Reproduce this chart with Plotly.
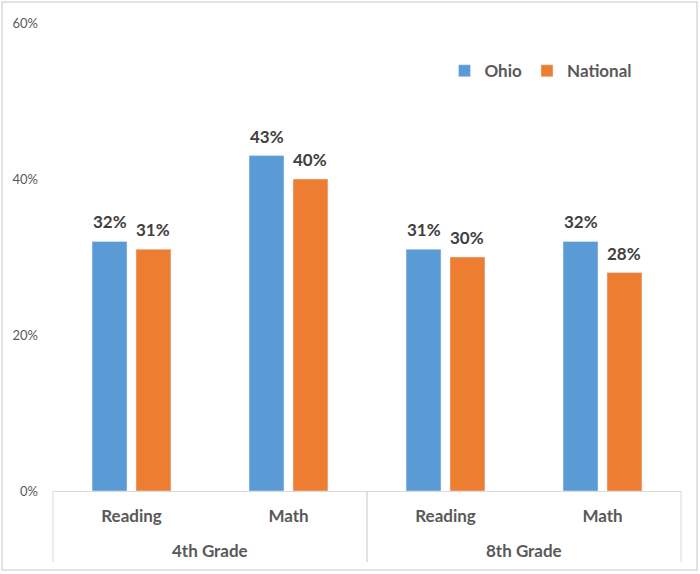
import plotly.graph_objects as go

grades = ["4th Grade", "4th Grade", "8th Grade", "8th Grade"]
subjects = ["Reading", "Math", "Reading", "Math"]
ohio = [0.32, 0.43, 0.31, 0.32]
national = [0.31, 0.40, 0.30, 0.28]
y_ticks = [0, 0.2, 0.4, 0.6]
y_tick_labels = ["0%", "20%", "40%", "60%"]

FONT = "Lato"
GRID = "#d9d9d9"
LABEL_FONT = dict(family=FONT, size=17, color="#404040", weight="bold")
CAT_FONT = dict(family=FONT, size=17, color="#595959", weight="bold")

x_keys = [f"{g} | {s}" for g, s in zip(grades, subjects)]
n = len(x_keys)

L, R, T, B = 53, 19, 23, 83
W, H = 700, 574
pw, ph = W - L - R, H - T - B
BARGAP = 0.44
series = [("Ohio", ohio, "#5B9BD5"), ("National", national, "#ED7D31")]
slot = pw / n * (1 - BARGAP) / len(series)

fig = go.Figure()
annotations = []
for k, (name, vals, col) in enumerate(series):
    fig.add_trace(go.Bar(name=name, x=x_keys, y=vals, marker_color=col))
    shift = (k - (len(series) - 1) / 2) * slot
    for key, v in zip(x_keys, vals):
        annotations.append(dict(
            text=f"{v:.0%}", x=key, y=v, xref="x", yref="y",
            xshift=shift, yshift=7, xanchor="center", yanchor="bottom",
            showarrow=False, font=LABEL_FONT,
        ))

# group labels and dividers for the two-level category axis
groups = []
for i, g in enumerate(grades):
    if not groups or groups[-1][0] != g:
        groups.append([g, i, i])
    else:
        groups[-1][2] = i

shapes = []
div_len = 71 / ph
for g, i0, i1 in groups:
    annotations.append(dict(
        text=g, x=(i0 + i1) / 2, xref="x", y=0, yref="paper",
        yshift=-59, yanchor="middle", xanchor="center", showarrow=False,
        font=CAT_FONT,
    ))
    for edge in (i0, i1 + 1):
        shapes.append(dict(
            type="line", xref="paper", yref="paper",
            x0=edge / n, x1=edge / n, y0=0, y1=-div_len,
            line=dict(color=GRID, width=1),
        ))

shapes.append(dict(
    type="rect", xref="paper", yref="paper",
    x0=(2 - L) / pw, x1=(697 - L) / pw,
    y0=(H - B - 570) / ph, y1=(H - B - 2) / ph,
    line=dict(color=GRID, width=1.5), layer="below",
))

fig.update_layout(
    width=W, height=H,
    margin=dict(l=L, r=R, t=T, b=B, autoexpand=False),
    paper_bgcolor="white", plot_bgcolor="white",
    barmode="group", bargap=BARGAP, bargroupgap=0.205,
    font=dict(family=FONT, color="#595959"),
    legend=dict(orientation="h", x=0.6234, y=0.897, xanchor="left", yanchor="middle",
                font=dict(family=FONT, size=17, color="#595959", weight="bold"),
                itemwidth=30, traceorder="normal"),
    xaxis=dict(
        showline=True, linecolor=GRID, linewidth=1,
        tickvals=x_keys, ticktext=subjects,
        tickfont=CAT_FONT, ticks="", showgrid=False, ticklabelstandoff=10,
    ),
    yaxis=dict(
        range=[0, 0.6], tickvals=y_ticks, ticktext=y_tick_labels,
        showgrid=False, showline=False, zeroline=False, ticks="",
        tickfont=dict(family=FONT, size=13, color="#595959"),
        ticklabelstandoff=14,
    ),
    annotations=annotations,
    shapes=shapes,
)

fig.write_html("out.html", config={"displayModeBar": False},
               post_script="document.body.style.margin='0';document.body.style.padding='0';")
